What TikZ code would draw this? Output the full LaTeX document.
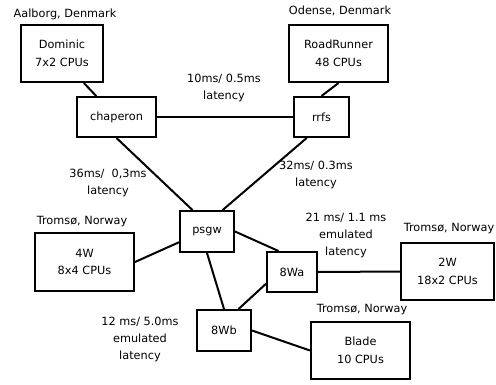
\documentclass[tikz,border=0pt]{standalone}
\usepackage{fontspec}
\setmainfont{DejaVu Sans}
\usetikzlibrary{calc}
\begin{document}
\begin{tikzpicture}[x=1pt,y=-1pt,
  box/.style={draw,line width=2pt,inner sep=0pt,align=center,font=\fontsize{11.3}{17.5}\selectfont},
  lbl/.style={inner sep=0pt,align=center,font=\fontsize{11.3}{17}\selectfont},
  link/.style={line width=2pt}]
\useasboundingbox (0,0) rectangle (496,384);
% boxes
\node[box,minimum width=82pt,minimum height=57pt] (dom) at (62,53.5) {Dominic\\7x2 CPUs};
\node[box,minimum width=79pt,minimum height=40pt] (chap) at (116.5,117) {chaperon};
\node[box,minimum width=55pt,minimum height=40pt] (rrfs) at (321.5,117) {rrfs};
\node[box,minimum width=99pt,minimum height=57pt] (rr) at (338.5,53.5) {RoadRunner\\48 CPUs};
\node[box,minimum width=54pt,minimum height=41pt] (psgw) at (207,231.5) {psgw};
\node[box,minimum width=99pt,minimum height=58pt] (fourw) at (84.5,262) {4W\\8x4 CPUs};
\node[box,minimum width=50pt,minimum height=40pt] (wa) at (292,272) {8Wa};
\node[box,minimum width=54pt,minimum height=41pt] (wb) at (224,330.5) {8Wb};
\node[box,minimum width=93pt,minimum height=57pt] (twow) at (447.5,271.5) {2W\\18x2 CPUs};
\node[box,minimum width=99pt,minimum height=57pt] (blade) at (360.5,350.5) {Blade\\10 CPUs};
% labels
\node[lbl] (l1) at (65,14) {Aalborg, Denmark};
\node[lbl] (l2) at (340,11) {Odense, Denmark};
\node[lbl] (l3) at (224,88) {10ms/ 0.5ms\\latency};
\node[lbl] (l4) at (108,183) {36ms/\ \ 0,3ms\\latency};
\node[lbl] (l5) at (316,175) {32ms/ 0.3ms\\latency};
\node[lbl] (l6) at (82,222) {Tromsø, Norway};
\node[lbl] (l7) at (449,229) {Tromsø, Norway};
\node[lbl] (l8) at (346,235) {21 ms/ 1.1 ms\\emulated\\latency};
\node[lbl] (l9) at (362,310) {Tromsø, Norway};
\node[lbl] (l10) at (140,339) {12 ms/ 5.0ms\\emulated\\latency};
% links
\draw[link] ($(dom.south west)!0.76!(dom.south east)$) -- ($(chap.north west)!0.25!(chap.north east)$);
\draw[link] (chap.east) -- (rrfs.west);
\draw[link] (rr.south) -- (rrfs.north);
\draw[link] (chap.south) -- ($(psgw.north west)!0.24!(psgw.north east)$);
\draw[link] ($(rrfs.south west)!0.24!(rrfs.south east)$) -- ($(psgw.north west)!0.78!(psgw.north east)$);
\draw[link] (fourw.east) -- ($(psgw.north west)!0.75!(psgw.south west)$);
\draw[link] (psgw.east) -- ($(wa.north west)!0.24!(wa.north east)$);
\draw[link] (psgw.south) -- (wb.north);
\draw[link] ($(wa.north west)!0.78!(wa.south west)$) -- ($(wb.north west)!0.76!(wb.north east)$);
\draw[link] (wa.east) -- (twow.west);
\draw[link] (wb.east) -- (blade.west);
\end{tikzpicture}
\end{document}
